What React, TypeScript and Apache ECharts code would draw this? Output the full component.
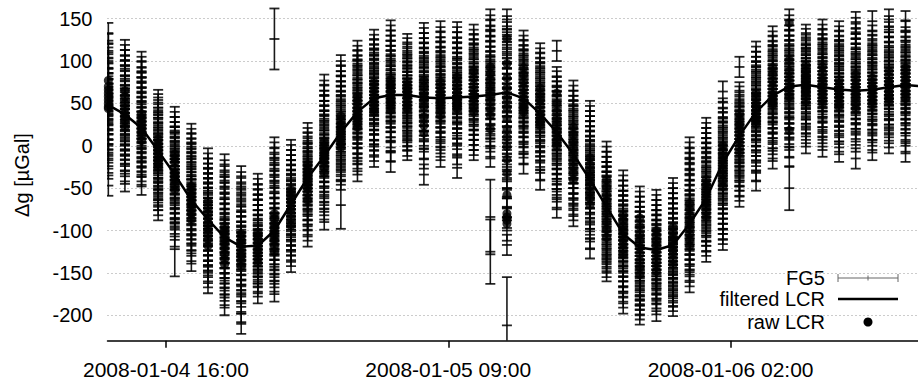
import React, { useEffect, useRef } from "react";
import * as echarts from "echarts";

// ---- data ----
// FG5 sets: one set per hour, first set 2008-01-04 12:32
const SET_START = [2008, 0, 4, 12, 32];
const X_MIN = [2008, 0, 4, 12, 29];
const X_MAX = [2008, 0, 6, 13, 17];
const X_TICKS = [
  [2008, 0, 4, 16, 0],
  [2008, 0, 5, 9, 0],
  [2008, 0, 6, 2, 0],
];
const Y_TICKS = [-200, -150, -100, -50, 0, 50, 100, 150];
const Y_MIN = -230;
const Y_MAX = 172;

const FG5_DROP_ERR = 12;

// drop values of each FG5 set [µGal], first half of the drops
const fg5Drops: number[][] = [
  [133, 112, 98, 85, 74, 66, 57, 50, 44, 36, 25, 14, 2, -12, -27, -47],
  [113, 101, 88, 79, 65, 56, 47, 39, 31, 22, 12, 1, -10, -24, -42],
  [99, 88, 74, 63, 52, 41, 33, 24, 17, 8, -3, -14, -25, -36, -46],
  [54, 45, 33, 24, 14, 6, -2, -9, -17, -26, -35, -44, -55, -64, -76],
  [34, 22, 11, 2, -7, -16, -24, -31, -40, -49, -58, -68, -79, -92, -107],
  [14, 3, -8, -19, -28, -39, -48, -57, -64, -73, -82, -93, -104, -118, -136],
  [-15, -27, -38, -50, -61, -70, -79, -86, -94, -103, -112, -124, -135, -148, -162],
  [-22, -36, -49, -63, -75, -86, -96, -104, -113, -122, -133, -144, -156, -171, -188],
  [-36, -50, -64, -78, -90, -101, -111, -119, -127, -136, -146, -158, -171, -186, -210],
  [-45, -58, -70, -82, -93, -103, -111, -118, -126, -134, -142, -151, -160, -174],
  [-2, -15, -29, -42, -56, -68, -80, -91, -100, -109, -118, -128, -140, -155, -172],
  [-5, -17, -29, -40, -50, -59, -67, -75, -83, -92, -101, -111, -123, -137],
  [15, 4, -6, -15, -24, -32, -39, -46, -54, -62, -71, -81, -93, -107],
  [72, 59, 47, 36, 25, 15, 6, -3, -12, -21, -31, -42, -55, -70, -87],
  [95, 82, 70, 59, 48, 38, 28, 19, 10, 1, -9, -19, -29, -40],
  [112, 101, 90, 80, 71, 62, 53, 45, 37, 28, 19, 9, -2, -15, -30],
  [125, 114, 103, 94, 85, 76, 68, 60, 52, 44, 35, 25, 14, 1, -13],
  [136, 124, 112, 101, 91, 82, 72, 64, 56, 47, 38, 28, 17, 4, -19],
  [120, 110, 100, 91, 83, 75, 68, 60, 52, 44, 35, 26, 16, 6, -5],
  [133, 121, 110, 99, 89, 80, 70, 62, 54, 45, 35, 24, 12, -4, -34],
  [135, 122, 111, 100, 90, 81, 72, 64, 56, 47, 38, 28, 17, 3, -13],
  [134, 122, 109, 98, 89, 80, 71, 63, 55, 46, 37, 27, 15, 0, -26],
  [131, 120, 109, 99, 90, 81, 73, 65, 57, 49, 40, 30, 19, 7, -5],
  [149, 136, 123, 111, 100, 90, 80, 71, 62, 53, 43, 32, 20, 5, -13],
  [149, 134, 119, 104, 91, 79, 68, 57, 46, 35, 23, 10, -5, -22, -40, -62, -85, -117],
  [124, 113, 102, 92, 83, 74, 66, 58, 50, 41, 32, 22, 11, -2, -21],
  [109, 98, 87, 77, 67, 58, 49, 41, 33, 24, 15, 5, -6, -20, -40],
  [112, 81, 70, 59, 48, 38, 29, 20, 12, 3, -6, -16, -27, -39, -54, -73],
  [65, 53, 42, 32, 22, 13, 4, -5, -14, -23, -33, -44, -56, -69, -83],
  [41, 29, 17, 6, -5, -15, -25, -34, -43, -52, -62, -73, -86, -101, -121],
  [-7, -19, -31, -42, -52, -62, -71, -80, -89, -98, -107, -117, -128, -138, -148],
  [-41, -53, -65, -76, -86, -95, -104, -112, -120, -129, -138, -148, -160, -172, -186],
  [-60, -72, -84, -95, -105, -114, -122, -130, -138, -147, -156, -166, -177, -188, -199],
  [-64, -76, -88, -99, -109, -118, -126, -134, -142, -150, -159, -169, -180, -195],
  [-50, -62, -74, -86, -97, -107, -116, -124, -132, -140, -149, -158, -168, -178, -189],
  [-2, -15, -28, -41, -53, -64, -74, -84, -93, -102, -112, -122, -134, -147, -161],
  [21, 9, -3, -14, -25, -35, -45, -54, -63, -72, -81, -91, -101, -112, -125],
  [64, 44, 33, 22, 12, 2, -8, -17, -26, -35, -44, -53, -63, -74, -86, -98, -111],
  [93, 63, 53, 43, 34, 25, 16, 8, 0, -8, -17, -26, -36, -47, -60],
  [111, 99, 88, 78, 68, 59, 50, 42, 34, 25, 16, 6, -5, -20, -41],
  [129, 118, 107, 97, 88, 79, 71, 63, 55, 46, 37, 27, 16, 2, -15],
  [149, 136, 124, 113, 103, 94, 85, 77, 69, 61, 52, 43, 33, 21, 7, -13],
  [131, 121, 112, 103, 95, 88, 81, 74, 67, 60, 52, 43, 33, 19, 3],
  [137, 126, 115, 105, 96, 88, 80, 72, 65, 57, 49, 40, 29, 15, -1],
  [135, 124, 113, 103, 94, 85, 77, 69, 61, 53, 45, 35, 24, 10, -7],
  [146, 132, 120, 109, 99, 90, 81, 73, 65, 57, 48, 38, 27, 13, -15],
  [147, 124, 114, 104, 95, 86, 78, 70, 62, 54, 46, 37, 26, 12, -5],
  [149, 134, 122, 111, 101, 92, 84, 76, 68, 60, 52, 43, 32, 18, 3],
  [147, 128, 117, 107, 98, 89, 81, 73, 65, 57, 48, 38, 27, 12, -7],
];

// second half of the drops of each FG5 set [µGal]
const fg5DropsB: number[][] = [
  [120, 104, 91, 79, 70, 61, 53, 47, 40, 30, 19, 8, -5, -20],
  [107, 94, 83, 71, 60, 51, 43, 35, 26, 17, 6, -4, -17, -33],
  [93, 80, 69, 57, 46, 37, 28, 20, 12, 3, -8, -19, -30],
  [49, 39, 28, 19, 10, 2, -5, -13, -21, -30, -40, -50, -60, -70],
  [28, 16, 6, -3, -12, -20, -28, -36, -45, -53, -63, -74, -85, -99],
  [8, -3, -13, -24, -34, -43, -52, -60, -68, -77, -88, -98, -111, -127],
  [-21, -33, -44, -55, -65, -74, -82, -90, -98, -107, -118, -129, -141, -155],
  [-29, -43, -56, -69, -80, -91, -100, -108, -117, -127, -138, -150, -163, -179],
  [-43, -57, -71, -84, -95, -106, -115, -123, -131, -141, -152, -164, -178, -196],
  [-51, -64, -76, -88, -98, -107, -115, -122, -130, -138, -146, -155, -166],
  [-8, -22, -35, -49, -62, -74, -85, -95, -104, -113, -123, -134, -147, -163],
  [-11, -23, -34, -45, -54, -63, -71, -79, -87, -96, -106, -117, -130],
  [9, -1, -10, -19, -28, -35, -42, -50, -58, -66, -76, -87, -100],
  [65, 53, 41, 30, 20, 10, 1, -8, -16, -26, -36, -48, -62, -78],
  [88, 76, 64, 53, 43, 33, 23, 14, 5, -4, -14, -24, -34],
  [106, 95, 85, 75, 66, 57, 49, 41, 32, 23, 14, 3, -9, -22],
  [119, 108, 98, 89, 80, 72, 64, 56, 48, 39, 30, 19, 7, -6],
  [130, 118, 106, 96, 86, 77, 68, 60, 51, 42, 33, 22, 10, -6],
  [115, 105, 95, 87, 79, 71, 64, 56, 48, 39, 30, 21, 11, 0],
  [127, 115, 104, 94, 84, 75, 66, 58, 49, 40, 29, 18, 5, -15],
  [128, 116, 105, 95, 85, 76, 68, 60, 51, 42, 33, 22, 10, -5],
  [128, 115, 103, 93, 84, 75, 67, 59, 50, 41, 32, 21, 8, -10],
  [125, 114, 104, 94, 85, 77, 69, 61, 53, 44, 35, 25, 13, 1],
  [142, 129, 117, 105, 95, 85, 75, 66, 57, 48, 37, 26, 12, -3],
  [141, 126, 111, 97, 85, 73, 62, 51, 40, 29, 16, 3, -13, -30, -50, -72, -100],
  [118, 107, 97, 87, 78, 70, 62, 54, 45, 36, 27, 16, 5, -10],
  [103, 92, 82, 72, 62, 53, 45, 37, 28, 19, 10, 0, -13, -29],
  [76, 64, 53, 43, 33, 24, 16, 7, -1, -11, -21, -33, -46, -63],
  [59, 47, 37, 27, 17, 8, 0, -9, -18, -28, -38, -50, -62, -76],
  [35, 23, 11, 0, -10, -20, -29, -38, -47, -57, -67, -79, -93, -110],
  [-13, -25, -36, -47, -57, -66, -75, -84, -93, -102, -112, -122, -133, -143],
  [-47, -59, -70, -81, -90, -99, -108, -116, -124, -133, -143, -154, -166, -179],
  [-66, -78, -89, -100, -109, -118, -126, -134, -142, -151, -161, -171, -182, -193],
  [-70, -82, -93, -104, -113, -122, -130, -138, -146, -154, -164, -174, -187],
  [-56, -68, -80, -91, -102, -111, -120, -128, -136, -144, -153, -163, -173, -183],
  [-8, -21, -34, -47, -58, -69, -79, -88, -97, -107, -117, -128, -140, -154],
  [15, 3, -8, -19, -30, -40, -49, -58, -67, -76, -86, -96, -106, -118],
  [39, 28, 17, 7, -3, -12, -21, -30, -39, -48, -58, -68, -80, -92, -104],
  [58, 48, 38, 29, 20, 12, 4, -4, -12, -21, -31, -41, -53],
  [105, 93, 83, 73, 63, 54, 46, 38, 29, 20, 11, 0, -12, -30],
  [123, 112, 102, 92, 83, 75, 67, 59, 50, 41, 32, 21, 9, -6],
  [142, 130, 118, 108, 98, 89, 81, 73, 65, 56, 47, 38, 27, 14, -2],
  [126, 116, 107, 99, 91, 84, 77, 70, 63, 56, 47, 38, 26, 11],
  [131, 120, 110, 100, 92, 84, 76, 68, 61, 53, 44, 34, 22, 7],
  [129, 118, 108, 98, 89, 81, 73, 65, 57, 49, 40, 30, 17, 2],
  [139, 126, 114, 104, 94, 85, 77, 69, 61, 52, 43, 32, 20, 5],
  [130, 119, 109, 99, 90, 82, 74, 66, 58, 50, 41, 31, 19, 4],
  [141, 128, 116, 106, 96, 88, 80, 72, 64, 56, 47, 37, 25, 10],
  [136, 122, 112, 102, 93, 85, 77, 69, 61, 52, 43, 32, 19, 3],
];

// isolated FG5 drops with large errors: [set index, value, error]
const fg5Outliers: number[][] = [
  [4, -122, 32],
  [10, 126, 36],
  [14, -70, 28],
  [23, -84, 44],
  [23, -125, 38],
  [24, -212, 57],
  [41, -50, 26],
];

// filtered LCR at each set time
const lcrFiltered: number[] = [
  48, 37, 21, -6, -34, -64, -87, -108, -119, -118,
  -100, -69, -38, -12, 16, 40, 56, 60, 60, 57,
  56, 57, 58, 60, 63, 56, 38, 16, -10, -40,
  -72, -104, -120, -123, -117, -92, -62, -20, 12, 40,
  59, 70, 72, 69, 66.5, 65, 66, 69, 71.6, 70,
];

// raw LCR readings during each set
const lcrRaw: number[][] = [
  [77, 70, 66, 62, 58, 54, 50, 46, 44],
  [65, 58, 50, 44, 38, 34, 30, 22],
  [38, 33, 28, 24, 20, 16, 12, 6],
  [8, 4, 0, -4, -8, -12, -17, -21, -25],
  [-10, -15, -20, -26, -32, -36, -40, -46, -52],
  [-48, -53, -58, -62, -66, -70, -75, -80, -87],
  [-66, -73, -80, -86, -92, -98, -104, -110, -118],
  [-95, -100, -105, -110, -115, -121, -128, -134, -140],
  [-104, -108, -112, -117, -121, -126, -130, -136, -142],
  [-102, -106, -110, -115, -119, -124, -128, -133, -138],
  [-80, -86, -92, -97, -101, -106, -112, -118, -125],
  [-52, -57, -62, -66, -70, -75, -80, -86, -94],
  [-22, -27, -32, -36, -40, -45, -50, -56, -64],
  [5, 0, -5, -9, -12, -16, -20, -26, -32],
  [35, 30, 25, 21, 17, 13, 8, 3, -2],
  [58, 53, 48, 44, 40, 36, 32, 27, 22],
  [75, 70, 66, 61, 57, 53, 49, 44, 40],
  [78, 73, 68, 64, 60, 56, 52, 47, 42],
  [75, 70, 66, 63, 60, 57, 53, 48, 44],
  [77, 70, 62, 58, 54, 46, 34, 24, 15],
  [75, 69, 64, 60, 56, 52, 47, 42, 36],
  [81, 74, 68, 63, 58, 54, 50, 47, 44],
  [88, 80, 72, 66, 60, 56, 52, 46, 40],
  [93, 85, 78, 71, 64, 58, 52, 44, 36, 20],
  [127, 97, 80, 68, 56, 45, 32, 20, 10, -1, -16, -32, -58, -80, -84, -88, -92],
  [92, 84, 75, 68, 62, 56, 50, 45, 40],
  [68, 61, 54, 48, 42, 37, 32, 28, 24],
  [62, 50, 40, 32, 25, 18, 12, 6, 0],
  [22, 13, 5, -3, -10, -18, -25, -32, -40],
  [-14, -22, -30, -36, -42, -48, -55, -62, -70],
  [-40, -49, -58, -65, -72, -80, -90, -99, -108],
  [-82, -88, -95, -101, -106, -111, -116, -122, -128],
  [-85, -95, -105, -112, -120, -127, -135, -143, -152],
  [-100, -106, -112, -118, -124, -130, -136, -142, -148],
  [-96, -102, -108, -113, -118, -123, -128, -134, -140],
  [-68, -75, -82, -88, -93, -98, -104, -111, -118],
  [-40, -46, -52, -57, -62, -67, -72, -78, -84],
  [0, -6, -12, -17, -22, -28, -34, -41, -48],
  [38, 31, 25, 19, 14, 9, 4, -2, -8],
  [62, 56, 50, 46, 42, 38, 34, 30, 26],
  [92, 84, 76, 70, 64, 60, 56, 52, 48],
  [145, 101, 88, 80, 75, 70, 64, 58, 18],
  [95, 88, 82, 77, 72, 68, 64, 58, 52],
  [93, 86, 80, 75, 70, 65, 60, 55, 50],
  [78, 73, 68, 65, 62, 58, 55, 50, 46],
  [84, 78, 72, 68, 64, 60, 56, 50, 44],
  [80, 75, 70, 67, 64, 60, 56, 52, 48],
  [88, 82, 76, 72, 68, 64, 60, 56, 52],
  [92, 87, 82, 78, 74, 70, 66, 61, 56],
];

// ---- helpers ----
const HOUR = 3600 * 1000;
const toMs = (a: number[]) => new Date(a[0], a[1], a[2], a[3], a[4]).getTime();
const setTime = (i: number) => toMs(SET_START) + i * HOUR;
const pad = (n: number) => (n < 10 ? "0" + n : "" + n);
const fmtTime = (v: number) => {
  const d = new Date(v);
  return `${d.getFullYear()}-${pad(d.getMonth() + 1)}-${pad(d.getDate())} ${pad(
    d.getHours()
  )}:${pad(d.getMinutes())}`;
};

const FONT = "Liberation Sans, Arial, Helvetica, sans-serif";

export default function App() {
  const ref = useRef<HTMLDivElement>(null);

  useEffect(() => {
    if (!ref.current) return;
    const chart = echarts.init(ref.current, undefined, { renderer: "svg" });

    const fg5Data: number[][] = [];
    fg5Drops.forEach((drops, i) => {
      drops.forEach((v) => fg5Data.push([setTime(i), v, FG5_DROP_ERR]));
    });
    fg5DropsB.forEach((drops, i) => {
      drops.forEach((v) => fg5Data.push([setTime(i), v, FG5_DROP_ERR]));
    });
    fg5Outliers.forEach(([i, v, e]) => fg5Data.push([setTime(i), v, e]));

    const lineData = lcrFiltered.map((v, i) => [setTime(i), v]);
    const rawData: number[][] = [];
    lcrRaw.forEach((vals, i) => vals.forEach((v) => rawData.push([setTime(i), v])));

    const barStyle = { stroke: "rgba(0,0,0,0.9)", lineWidth: 1.6, fill: "none" };
    const capStyle = { stroke: "rgba(0,0,0,0.85)", lineWidth: 1.8, fill: "none" };
    const HW = 5;

    const option: any = {
      animation: false,
      textStyle: { fontFamily: FONT },
      grid: { left: 107.5, right: 0, top: 0, bottom: 44.3, containLabel: false },
      xAxis: {
        type: "value",
        min: toMs(X_MIN),
        max: toMs(X_MAX),
        axisLine: { show: true, onZero: false, lineStyle: { color: "#000", width: 1.5 } },
        axisTick: {
          show: true,
          customValues: X_TICKS.map(toMs),
          length: 7,
          inside: false,
          lineStyle: { color: "#000", width: 1.5 },
        },
        axisLabel: {
          customValues: X_TICKS.map(toMs),
          formatter: (v: number) => fmtTime(v),
          fontSize: 21,
          color: "#000",
          fontFamily: FONT,
          margin: 18,
        },
        splitLine: { show: false },
      },
      yAxis: {
        type: "value",
        min: Y_MIN,
        max: Y_MAX,
        minInterval: 50,
        maxInterval: 50,
        splitNumber: 8,
        axisLine: { show: false },
        axisTick: { show: false },
        axisLabel: {
          customValues: Y_TICKS,
          fontSize: 20,
          color: "#000",
          fontFamily: FONT,
          margin: 15,
        },
        splitLine: {
          show: true,
          showMinLine: false,
          showMaxLine: false,
          lineStyle: { color: "#999", type: [1, 3], width: 1 },
        },
      },
      series: [
        {
          name: "FG5",
          type: "custom",
          clip: true,
          encode: { x: 0, y: 1 },
          data: fg5Data,
          renderItem: (params: any, api: any) => {
            const t = api.value(0);
            const v = api.value(1);
            const e = api.value(2);
            const hi = Math.min(v + e, Y_MAX);
            const lo = Math.max(v - e, Y_MIN);
            const pHi = api.coord([t, hi]);
            const pLo = api.coord([t, lo]);
            const pC = api.coord([t, v]);
            const x = pHi[0];
            const children: any[] = [
              { type: "line", shape: { x1: x, y1: pHi[1], x2: x, y2: pLo[1] }, style: barStyle },
            ];
            if (v + e <= Y_MAX)
              children.push({ type: "line", shape: { x1: x - HW, y1: pHi[1], x2: x + HW, y2: pHi[1] }, style: capStyle });
            if (v - e >= Y_MIN)
              children.push({ type: "line", shape: { x1: x - HW, y1: pLo[1], x2: x + HW, y2: pLo[1] }, style: capStyle });
            if (v >= Y_MIN && v <= Y_MAX)
              children.push({ type: "line", shape: { x1: x - HW, y1: pC[1], x2: x + HW, y2: pC[1] }, style: capStyle });
            return { type: "group", children };
          },
          z: 1,
        },
        {
          name: "raw LCR",
          type: "scatter",
          data: rawData,
          symbol: "circle",
          symbolSize: 9,
          itemStyle: { color: "#000" },
          z: 2,
        },
        {
          name: "filtered LCR",
          type: "line",
          data: lineData,
          showSymbol: false,
          symbol: "none",
          lineStyle: { color: "#000", width: 2.5 },
          z: 3,
        },
      ],
      graphic: [
        {
          type: "text",
          x: 22,
          y: 175,
          rotation: Math.PI / 2,
          style: { text: "Δg [µGal]", fontSize: 20, fontFamily: FONT, fill: "#000", align: "center", verticalAlign: "middle" },
        },
        {
          type: "text",
          x: 825,
          y: 278,
          style: { text: "FG5", fontSize: 20, fontFamily: FONT, fill: "#000", align: "right", verticalAlign: "middle" },
        },
        { type: "line", shape: { x1: 838, y1: 278, x2: 898, y2: 278 }, style: { stroke: "#666", lineWidth: 1 } },
        { type: "line", shape: { x1: 838, y1: 274, x2: 838, y2: 282 }, style: { stroke: "#666", lineWidth: 1 } },
        { type: "line", shape: { x1: 898, y1: 274, x2: 898, y2: 282 }, style: { stroke: "#666", lineWidth: 1 } },
        { type: "line", shape: { x1: 868, y1: 275.5, x2: 868, y2: 280.5 }, style: { stroke: "#666", lineWidth: 1 } },
        {
          type: "text",
          x: 825,
          y: 299,
          style: { text: "filtered LCR", fontSize: 20, fontFamily: FONT, fill: "#000", align: "right", verticalAlign: "middle" },
        },
        { type: "line", shape: { x1: 838, y1: 299, x2: 898, y2: 299 }, style: { stroke: "#000", lineWidth: 2.5 } },
        {
          type: "text",
          x: 825,
          y: 322,
          style: { text: "raw LCR", fontSize: 20, fontFamily: FONT, fill: "#000", align: "right", verticalAlign: "middle" },
        },
        { type: "circle", shape: { cx: 868, cy: 322, r: 4.5 }, style: { fill: "#000" } },
      ],
    };

    chart.setOption(option);
    return () => chart.dispose();
  }, []);

  return (
    <div
      ref={ref}
      style={{ position: "fixed", left: 0, top: 0, width: 918, height: 385, background: "#fff" }}
    />
  );
}
